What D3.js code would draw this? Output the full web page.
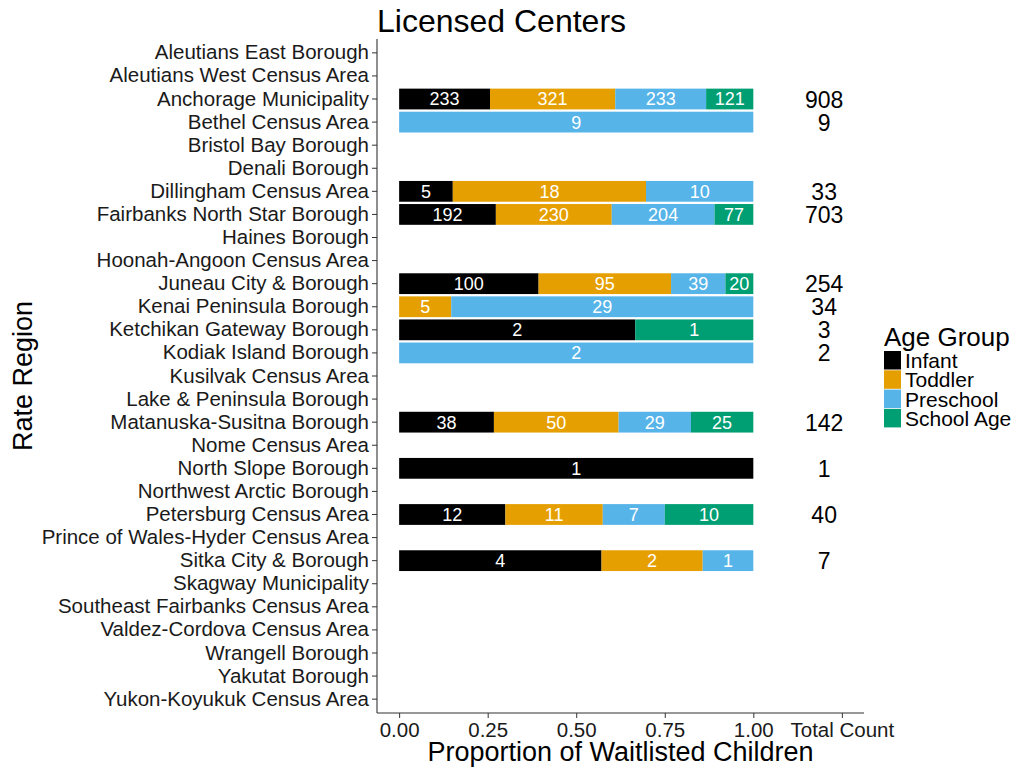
<!DOCTYPE html>
<html>
<head>
<meta charset="utf-8">
<title>Licensed Centers</title>
<script src="https://cdnjs.cloudflare.com/ajax/libs/d3/7.8.5/d3.min.js"></script>
<style>
  body { margin: 0; background: #fff; font-family: 'Liberation Sans', Arial, sans-serif; }
</style>
</head>
<body>
<div id="chart"></div>
<script>
// regions in display order (top to bottom)
const regions = [
  "Aleutians East Borough", "Aleutians West Census Area", "Anchorage Municipality",
  "Bethel Census Area", "Bristol Bay Borough", "Denali Borough", "Dillingham Census Area",
  "Fairbanks North Star Borough", "Haines Borough", "Hoonah-Angoon Census Area",
  "Juneau City & Borough", "Kenai Peninsula Borough", "Ketchikan Gateway Borough",
  "Kodiak Island Borough", "Kusilvak Census Area", "Lake & Peninsula Borough",
  "Matanuska-Susitna Borough", "Nome Census Area", "North Slope Borough",
  "Northwest Arctic Borough", "Petersburg Census Area", "Prince of Wales-Hyder Census Area",
  "Sitka City & Borough", "Skagway Municipality", "Southeast Fairbanks Census Area",
  "Valdez-Cordova Census Area", "Wrangell Borough", "Yakutat Borough", "Yukon-Koyukuk Census Area"
];

const ageGroups = ["Infant", "Toddler", "Preschool", "School Age"];
const ageColors = ["#000000", "#E69F00", "#56B4E9", "#009E73"];

// waitlisted children counts per region (only regions with data)
const infant    = { "Anchorage Municipality": 233, "Dillingham Census Area": 5, "Fairbanks North Star Borough": 192,
  "Juneau City & Borough": 100, "Ketchikan Gateway Borough": 2, "Matanuska-Susitna Borough": 38,
  "North Slope Borough": 1, "Petersburg Census Area": 12, "Sitka City & Borough": 4 };
const toddler   = { "Anchorage Municipality": 321, "Dillingham Census Area": 18, "Fairbanks North Star Borough": 230,
  "Juneau City & Borough": 95, "Kenai Peninsula Borough": 5, "Matanuska-Susitna Borough": 50,
  "Petersburg Census Area": 11, "Sitka City & Borough": 2 };
const preschool = { "Anchorage Municipality": 233, "Bethel Census Area": 9, "Dillingham Census Area": 10,
  "Fairbanks North Star Borough": 204, "Juneau City & Borough": 39, "Kenai Peninsula Borough": 29,
  "Kodiak Island Borough": 2, "Matanuska-Susitna Borough": 29, "Petersburg Census Area": 7,
  "Sitka City & Borough": 1 };
const schoolAge = { "Anchorage Municipality": 121, "Fairbanks North Star Borough": 77,
  "Juneau City & Borough": 20, "Ketchikan Gateway Borough": 1, "Matanuska-Susitna Borough": 25,
  "Petersburg Census Area": 10 };

const xTicks = [0, 0.25, 0.5, 0.75, 1.0];
const totalPos = 1.2;      // where the totals are written
const totalTickPos = 1.25; // where the "Total Count" tick sits

const W = 1016, H = 767;
const margin = { left: 377, right: 152, top: 39, bottom: 54 };
const font = "'Liberation Sans', Arial, sans-serif";

const svg = d3.select("#chart").append("svg")
  .attr("width", W).attr("height", H)
  .style("font-family", font);

const x = d3.scaleLinear()
  .domain([-0.0625, 1.3125])
  .range([margin.left, W - margin.right]);

const y = d3.scaleBand()
  .domain(regions)
  .range([margin.top, H - margin.bottom])
  .paddingInner(0.1).paddingOuter(0.15).align(0.5);

// build table
const series = [infant, toddler, preschool, schoolAge];
const table = regions.map(r => {
  const row = { region: r };
  ageGroups.forEach((g, i) => row[g] = series[i][r] || 0);
  row.total = d3.sum(ageGroups, g => row[g]);
  return row;
}).filter(d => d.total > 0);

const segments = [];
table.forEach(d => {
  let acc = 0;
  ageGroups.forEach((g, i) => {
    const v = d[g];
    if (v > 0) {
      segments.push({ region: d.region, group: g, color: ageColors[i], value: v,
        x0: acc / d.total, x1: (acc + v) / d.total });
    }
    acc += v;
  });
});

svg.append("g").selectAll("rect")
  .data(segments).join("rect")
  .attr("x", d => x(d.x0))
  .attr("width", d => x(d.x1) - x(d.x0))
  .attr("y", d => y(d.region))
  .attr("height", y.bandwidth())
  .attr("fill", d => d.color);

svg.append("g").selectAll("text")
  .data(segments).join("text")
  .attr("x", d => x((d.x0 + d.x1) / 2))
  .attr("y", d => y(d.region) + y.bandwidth() / 2)
  .attr("dy", "0.36em")
  .attr("text-anchor", "middle")
  .attr("fill", "#fff")
  .style("font-size", "18px")
  .text(d => d.value);

// totals
svg.append("g").selectAll("text")
  .data(table).join("text")
  .attr("x", x(totalPos))
  .attr("y", d => y(d.region) + y.bandwidth() / 2)
  .attr("dy", "0.37em")
  .attr("text-anchor", "middle")
  .attr("fill", "#000")
  .style("font-size", "23px")
  .text(d => d.total);

// axes
const yAxis = svg.append("g")
  .attr("transform", `translate(${margin.left},0)`)
  .call(d3.axisLeft(y).tickSize(5).tickPadding(3));

const xAxis = svg.append("g")
  .attr("transform", `translate(0,${H - margin.bottom})`)
  .call(d3.axisBottom(x)
    .tickValues(xTicks.concat([totalTickPos]))
    .tickFormat(d => d === totalTickPos ? "Total Count" : d3.format(".2f")(d))
    .tickSize(5).tickPadding(4));

[yAxis, xAxis].forEach(a => {
  a.select(".domain").attr("stroke", "#333").attr("stroke-width", 1.1);
  a.selectAll(".tick line").attr("stroke", "#333");
  a.selectAll(".tick text").attr("fill", "#1a1a1a").style("font-size", "20.5px")
    .style("font-family", font);
});
yAxis.select(".domain").attr("d", `M0,${margin.top}V${H - margin.bottom}`);
xAxis.select(".domain").attr("d", `M${margin.left},0H${W - margin.right}`);

// titles
svg.append("text")
  .attr("x", margin.left)
  .attr("y", 32)
  .style("font-size", "32px")
  .text("Licensed Centers");

svg.append("text")
  .attr("x", (margin.left + W - margin.right) / 2)
  .attr("y", 761)
  .attr("text-anchor", "middle")
  .style("font-size", "27px")
  .text("Proportion of Waitlisted Children");

svg.append("text")
  .attr("transform", `translate(32,${(margin.top + H - margin.bottom) / 2}) rotate(-90)`)
  .attr("text-anchor", "middle")
  .style("font-size", "27px")
  .text("Rate Region");

// legend
const legend = svg.append("g").attr("transform", "translate(884,346)");
legend.append("text")
  .attr("x", 0).attr("y", 0)
  .style("font-size", "26px")
  .text("Age Group");

const keys = legend.selectAll("g.key")
  .data(ageGroups).join("g")
  .attr("class", "key")
  .attr("transform", (d, i) => `translate(0,${5 + i * 19.3})`);

keys.append("rect")
  .attr("width", 17).attr("height", 18.5)
  .attr("fill", (d, i) => ageColors[i]);

keys.append("text")
  .attr("x", 21).attr("y", 17)
  .style("font-size", "21px")
  .text(d => d);
</script>
</body>
</html>
